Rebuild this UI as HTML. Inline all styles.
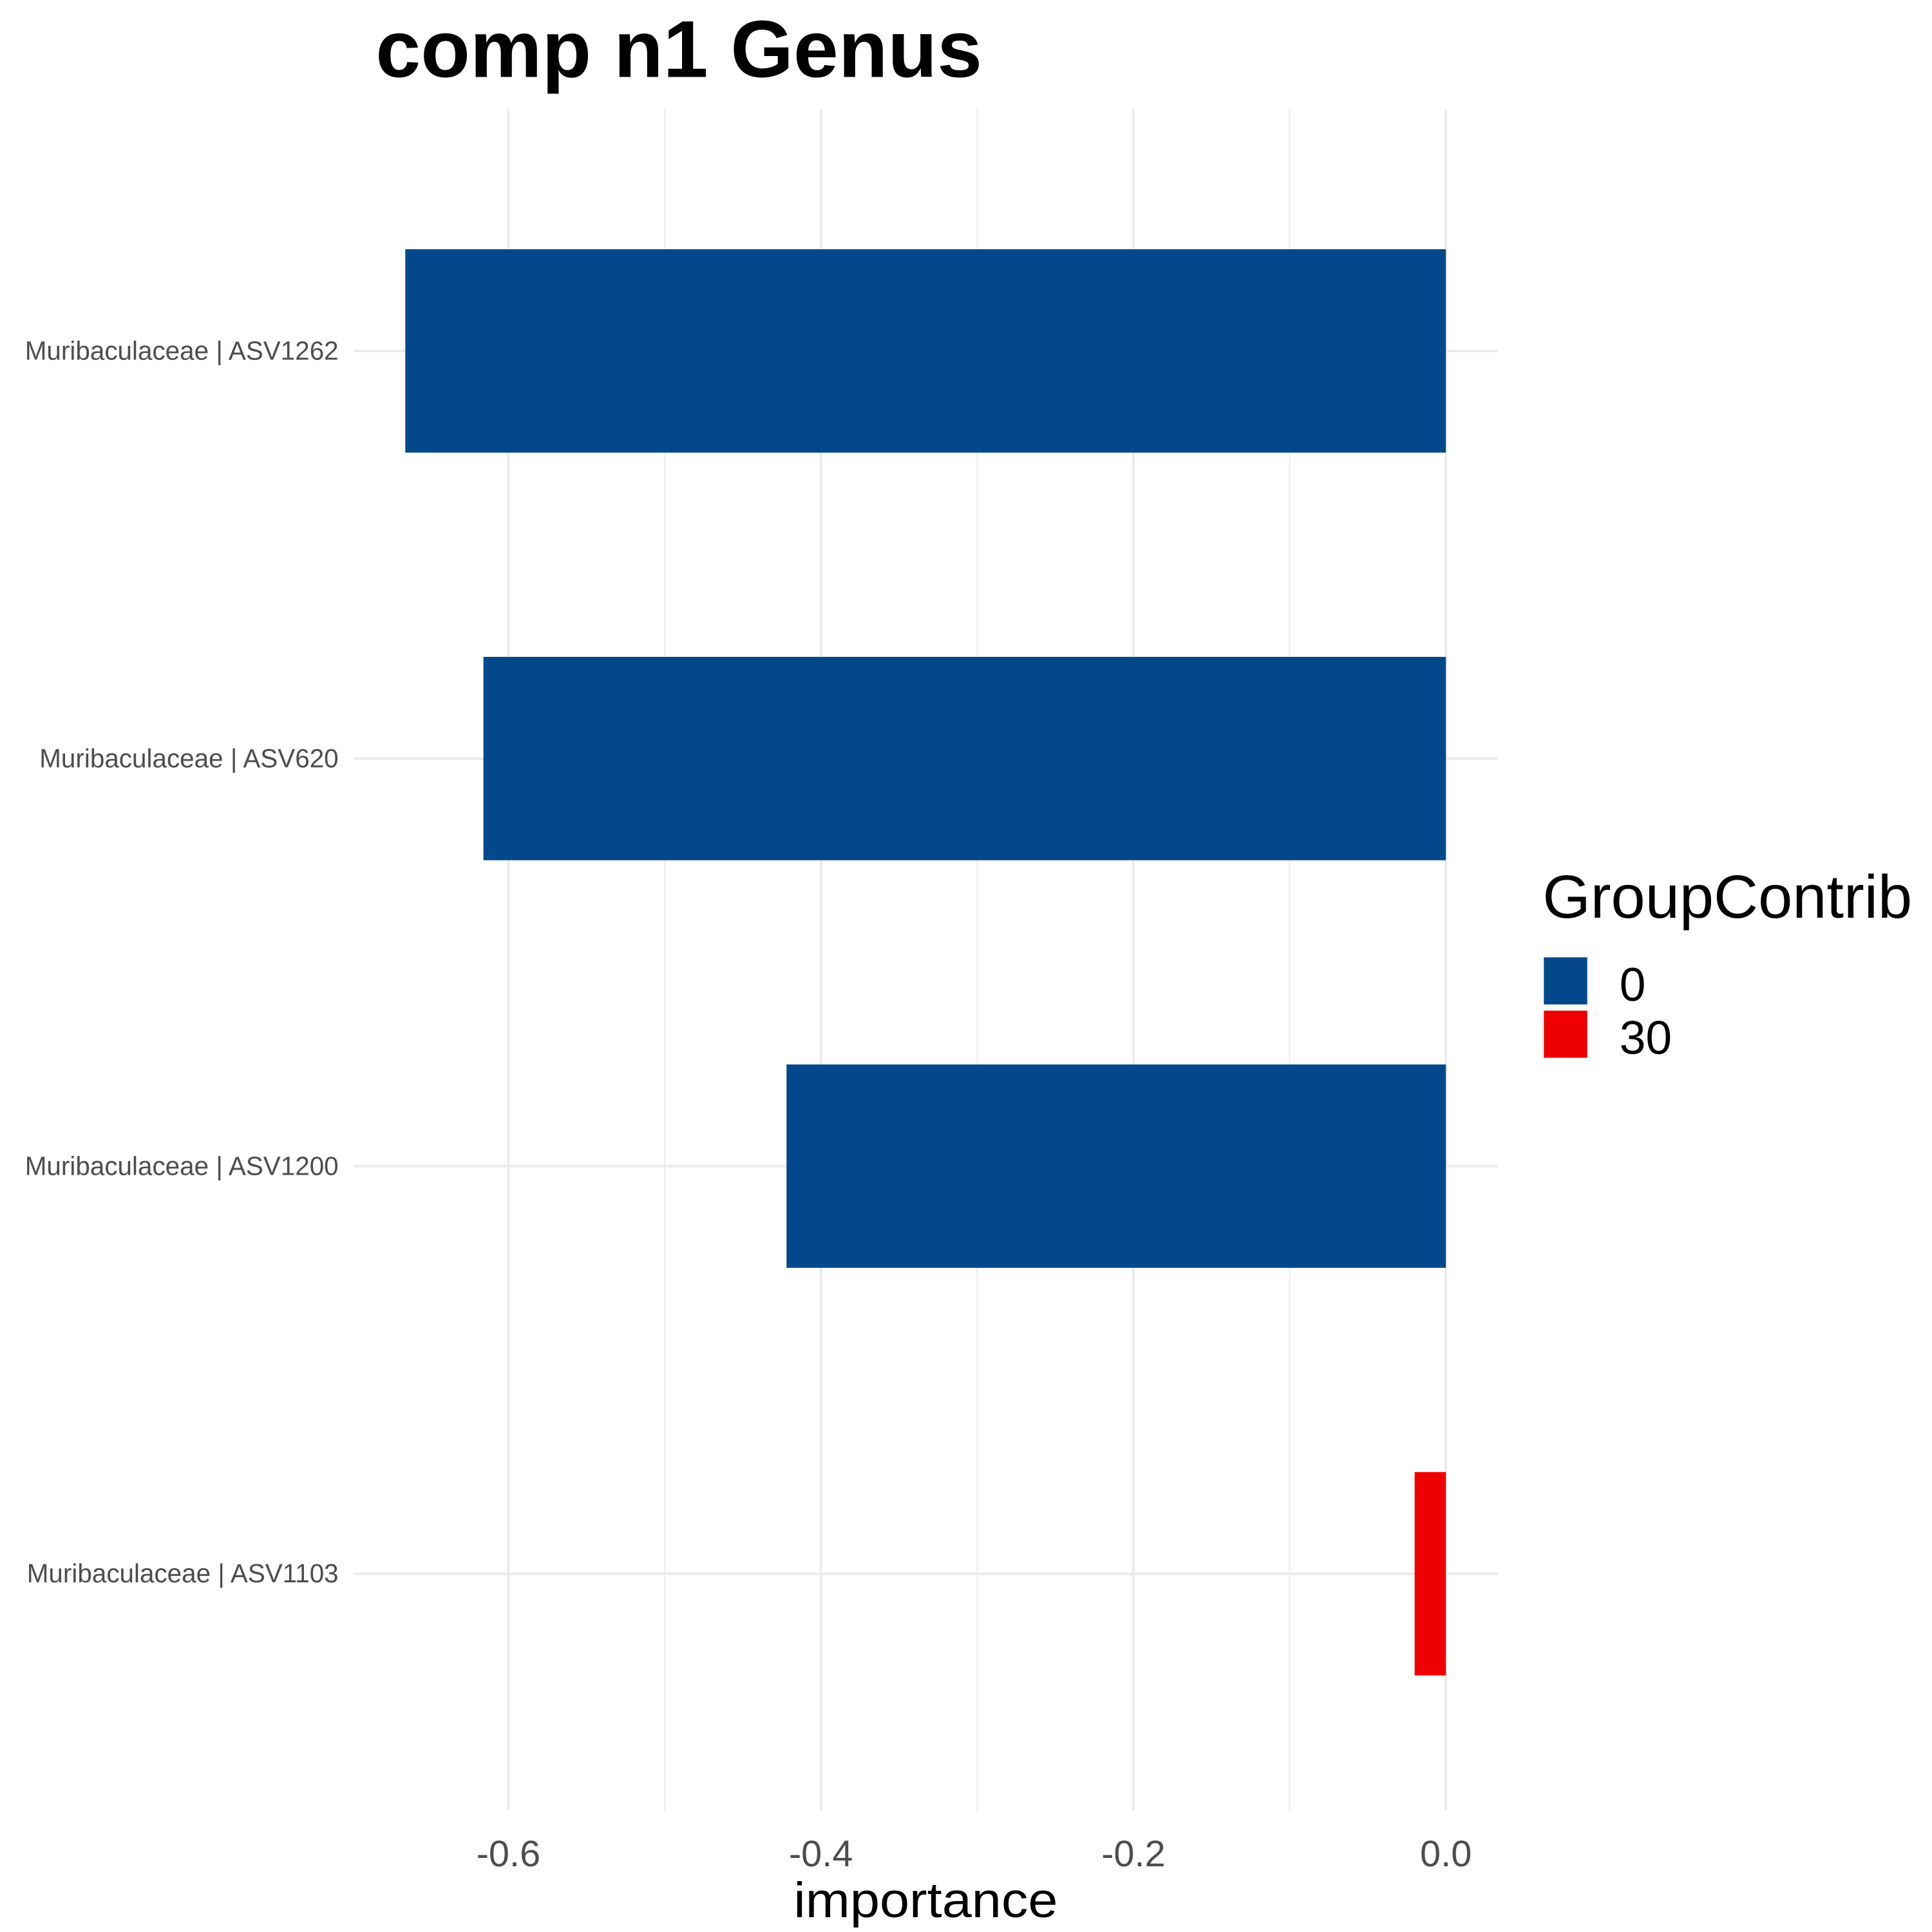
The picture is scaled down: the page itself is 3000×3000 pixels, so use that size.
<!DOCTYPE html>
<html><head><meta charset="utf-8"><style>
html,body{margin:0;padding:0;background:#fff}
svg{display:block}
text{font-family:"Liberation Sans",Arial,sans-serif}
</style></head><body>
<svg id="chart" width="3000" height="3000" viewBox="0 0 1558 1558" xmlns="http://www.w3.org/2000/svg">
<rect width="1558" height="1558" fill="#fff"/>
<text x="303" y="62" font-size="65" font-weight="bold" fill="#000" textLength="489" lengthAdjust="spacingAndGlyphs">comp n1 Genus</text>
<g id="grid"></g>
<g id="bars"></g>
<g id="ylabels"></g>
<g id="xticks"></g>
<text x="640" y="1546" font-size="40" fill="#000" textLength="213" lengthAdjust="spacingAndGlyphs">importance</text>
<g>
<text x="1244" y="740" font-size="49" fill="#000" textLength="298" lengthAdjust="spacingAndGlyphs">GroupContrib</text>
<rect x="1245" y="772" width="35" height="38" fill="#02488a"/>
<text x="1306" y="807" font-size="38" fill="#000">0</text>
<rect x="1245" y="815" width="35" height="38" fill="#ee0000"/>
<text x="1306" y="850" font-size="38" fill="#000">30</text>
</g>
</svg>
<script>
const categories = ["Muribaculaceae | ASV1262","Muribaculaceae | ASV620","Muribaculaceae | ASV1200","Muribaculaceae | ASV1103"];
const values = [-0.666, -0.616, -0.422, -0.020];
const groups = ["0","0","0","30"];
const xTicks = [-0.6,-0.4,-0.2,0.0];
const xTickLabels = ["-0.6","-0.4","-0.2","0.0"];
const minorTicks = [-0.5,-0.3,-0.1];

const NS="http://www.w3.org/2000/svg";
const colors={"0":"#02488a","30":"#ee0000"};
const panel={left:285,right:1208,top:88,bottom:1460};
function xScale(v){return 1166+v*1260;}
function yScale(i){return 283+i*328.7;}
const barHalf=82;
function mk(tag,attrs,parent){const e=document.createElementNS(NS,tag);for(const k in attrs)e.setAttribute(k,attrs[k]);parent.appendChild(e);return e;}
const grid=document.getElementById('grid');
minorTicks.forEach(t=>{
  const l=mk('line',{x1:xScale(t),x2:xScale(t),y1:panel.top,y2:panel.bottom,stroke:'#ebebeb','stroke-width':1},grid);
  
  
});
xTicks.forEach(t=>{
  const l=mk('line',{x1:xScale(t),x2:xScale(t),y1:panel.top,y2:panel.bottom,stroke:'#ebebeb','stroke-width':2},grid);
  
  
});
categories.forEach((c,i)=>{
  const l=mk('line',{x1:panel.left,x2:panel.right,y1:yScale(i),y2:yScale(i),stroke:'#ebebeb','stroke-width':2},grid);
  
  
});
const bars=document.getElementById('bars');
values.forEach((v,i)=>{
  const x0=xScale(Math.min(v,0)),x1=xScale(Math.max(v,0));
  const r=mk('rect',{x:x0,y:yScale(i)-barHalf,width:x1-x0,height:barHalf*2,fill:colors[groups[i]]},bars);
  
  
});
const yl=document.getElementById('ylabels');
categories.forEach((c,i)=>{
  const t=mk('text',{x:273,y:yScale(i)+7,'font-size':21,'text-anchor':'end',fill:'#4d4d4d'},yl);
  t.textContent=c;
  
  
});
const xt=document.getElementById('xticks');
xTicks.forEach((v,i)=>{
  const t=mk('text',{x:xScale(v),y:1505,'font-size':30,'text-anchor':'middle',fill:'#4d4d4d'},xt);
  t.textContent=xTickLabels[i];
  
  
});
</script>
</body></html>
